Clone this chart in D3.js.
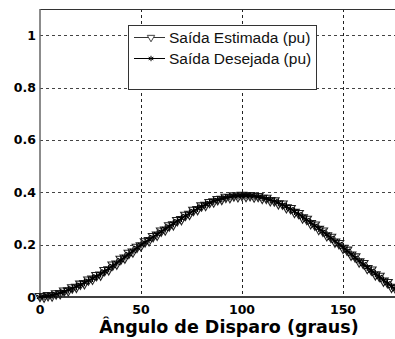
<!DOCTYPE html>
<html>
<head>
<meta charset="utf-8">
<script src="https://cdn.jsdelivr.net/npm/d3@7"></script>
<style>
  body { margin: 0; background: #fff; }
  svg { display: block; font-family: "Liberation Sans", Arial, sans-serif; }
  .tick-label, .axis-title { font-family: "DejaVu Sans", Verdana, sans-serif; font-weight: bold; }
</style>
</head>
<body>
<div id="chart"></div>
<script>
// firing angle (degrees), every 2 degrees
var angles = d3.range(0, 180, 2);
var desired = [
  0.000, 0.002, 0.004, 0.007, 0.011, 0.016, 0.021, 0.027, 0.033, 0.040,
  0.047, 0.055, 0.063, 0.071, 0.079, 0.088, 0.098, 0.108, 0.119, 0.130,
  0.141, 0.153, 0.164, 0.176, 0.188, 0.199, 0.209, 0.219, 0.229, 0.240,
  0.250, 0.260, 0.270, 0.280, 0.290, 0.300, 0.310, 0.320, 0.329, 0.338,
  0.346, 0.353, 0.360, 0.366, 0.371, 0.376, 0.380, 0.383, 0.385, 0.386,
  0.387, 0.387, 0.386, 0.385, 0.383, 0.380, 0.376, 0.371, 0.366, 0.360,
  0.353, 0.345, 0.336, 0.327, 0.317, 0.306, 0.295, 0.284, 0.273, 0.262,
  0.250, 0.238, 0.226, 0.214, 0.202, 0.190, 0.177, 0.164, 0.151, 0.138,
  0.126, 0.113, 0.101, 0.089, 0.077, 0.065, 0.053, 0.041, 0.030, 0.020
];
var estimated = [
  0.003, 0.001, 0.006, 0.005, 0.013, 0.014, 0.024, 0.025, 0.036, 0.038,
  0.050, 0.052, 0.066, 0.069, 0.083, 0.085, 0.102, 0.105, 0.123, 0.127,
  0.145, 0.150, 0.168, 0.173, 0.191, 0.196, 0.212, 0.216, 0.232, 0.237,
  0.253, 0.257, 0.273, 0.277, 0.293, 0.297, 0.313, 0.317, 0.332, 0.335,
  0.349, 0.351, 0.362, 0.364, 0.373, 0.374, 0.382, 0.381, 0.387, 0.384,
  0.389, 0.385, 0.388, 0.383, 0.385, 0.378, 0.378, 0.369, 0.368, 0.357,
  0.356, 0.342, 0.339, 0.324, 0.320, 0.303, 0.298, 0.281, 0.276, 0.259,
  0.253, 0.235, 0.229, 0.211, 0.205, 0.187, 0.180, 0.161, 0.154, 0.135,
  0.129, 0.110, 0.104, 0.086, 0.080, 0.062, 0.056, 0.038, 0.033, 0.017
];
var xTicks = [0, 50, 100, 150];
var yTicks = [0, 0.2, 0.4, 0.6, 0.8, 1];
var yTickLabels = ["0", "0.2", "0.4", "0.6", "0.8", "1"];
var seriesNames = ["Saída Estimada (pu)", "Saída Desejada (pu)"];
var xLabel = "Ângulo de Disparo (graus)";

var width = 395, height = 339;

var x = d3.scaleLinear().domain([0, 50]).range([40, 141]);
var y = d3.scaleLinear().domain([0, 1.1]).range([297, 9]);

var svg = d3.select("#chart").append("svg")
    .attr("width", width)
    .attr("height", height);

// grid
svg.append("g").selectAll("line")
    .data(xTicks.slice(1))
    .enter()
  .append("line")
    .attr("x1", function(d) { return Math.round(x(d)) + 0.5; })
    .attr("x2", function(d) { return Math.round(x(d)) + 0.5; })
    .attr("y1", y(1.1))
    .attr("y2", y(0))
    .style("stroke", "#222")
    .style("stroke-width", 1)
    .style("stroke-dasharray", "3,3");

svg.append("g").selectAll("line")
    .data(yTicks.slice(1))
    .enter()
  .append("line")
    .attr("x1", x(0))
    .attr("x2", width)
    .attr("y1", function(d) { return Math.round(y(d)) + 0.5; })
    .attr("y2", function(d) { return Math.round(y(d)) + 0.5; })
    .style("stroke", "#444")
    .style("stroke-width", 1)
    .style("stroke-dasharray", "3,3");

// frame
svg.append("line")
    .attr("x1", x(0)).attr("x2", width)
    .attr("y1", 9.5).attr("y2", 9.5)
    .style("stroke", "#333").style("stroke-width", 1);
svg.append("line")
    .attr("x1", x(0)).attr("x2", x(0))
    .attr("y1", 9).attr("y2", y(0))
    .style("stroke", "#666").style("stroke-width", 1.5);
svg.append("line")
    .attr("x1", x(0)).attr("x2", width)
    .attr("y1", y(0)).attr("y2", y(0))
    .style("stroke", "#000").style("stroke-width", 1.5);

// series
var line = d3.line()
    .x(function(d, i) { return x(angles[i]); })
    .y(function(d) { return y(d); });

var tri = d3.symbol().type(d3.symbolTriangle).size(40);
var star = d3.symbol().type(d3.symbolAsterisk).size(36);
var triLegend = d3.symbol().type(d3.symbolTriangle).size(24);
var starLegend = d3.symbol().type(d3.symbolAsterisk).size(20);

svg.append("path")
    .datum(estimated)
    .attr("d", line)
    .style("fill", "none")
    .style("stroke", "#222")
    .style("stroke-width", 1.2);

svg.append("g").selectAll("path")
    .data(estimated)
    .enter()
  .append("path")
    .attr("d", tri)
    .attr("transform", function(d, i) { return "translate(" + x(angles[i]) + "," + y(d) + ") rotate(180)"; })
    .style("fill", "none")
    .style("stroke", "#222")
    .style("stroke-width", 1.1);

svg.append("path")
    .datum(desired)
    .attr("d", line)
    .style("fill", "none")
    .style("stroke", "#000")
    .style("stroke-width", 1.2);

svg.append("g").selectAll("path")
    .data(desired)
    .enter()
  .append("path")
    .attr("d", star)
    .attr("transform", function(d, i) { return "translate(" + x(angles[i]) + "," + y(d) + ")"; })
    .style("fill", "none")
    .style("stroke", "#000")
    .style("stroke-width", 1.2);

// tick labels
svg.append("g").selectAll("text")
    .data(yTicks)
    .enter()
  .append("text")
    .attr("class", "tick-label")
    .attr("x", 36)
    .attr("y", function(d) { return y(d) + 4.5; })
    .attr("text-anchor", "end")
    .style("font-size", "12.5px")
    .text(function(d, i) { return yTickLabels[i]; });

svg.append("g").selectAll("text")
    .data(xTicks)
    .enter()
  .append("text")
    .attr("class", "tick-label")
    .attr("x", function(d) { return x(d); })
    .attr("y", 314)
    .attr("text-anchor", "middle")
    .style("font-size", "12.5px")
    .text(function(d) { return d; });

svg.append("text")
    .attr("class", "axis-title")
    .attr("x", 229)
    .attr("y", 333)
    .attr("text-anchor", "middle")
    .style("font-size", "17.5px")
    .text(xLabel);

// legend
var legend = svg.append("g");
legend.append("rect")
    .attr("x", 128.5).attr("y", 25.5)
    .attr("width", 188).attr("height", 64)
    .style("fill", "#fff")
    .style("stroke", "#333")
    .style("stroke-width", 1);

var rows = [37, 58];
var markers = [triLegend, starLegend];
seriesNames.forEach(function(name, i) {
  legend.append("line")
      .attr("x1", 134).attr("x2", 165)
      .attr("y1", rows[i] + 0.5).attr("y2", rows[i] + 0.5)
      .style("stroke", i === 0 ? "#333" : "#000")
      .style("stroke-width", 1);
  legend.append("path")
      .attr("d", markers[i])
      .attr("transform", "translate(151," + (rows[i] + 0.5) + ")" + (i === 0 ? " rotate(180)" : ""))
      .style("fill", i === 0 ? "#fff" : "none")
      .style("stroke", i === 0 ? "#444" : "#000")
      .style("stroke-width", 1);
  legend.append("text")
      .attr("x", 169)
      .attr("y", rows[i] + 5.5)
      .style("font-size", "15.5px")
      .style("fill", "#111")
      .text(name);
});
</script>
</body>
</html>
